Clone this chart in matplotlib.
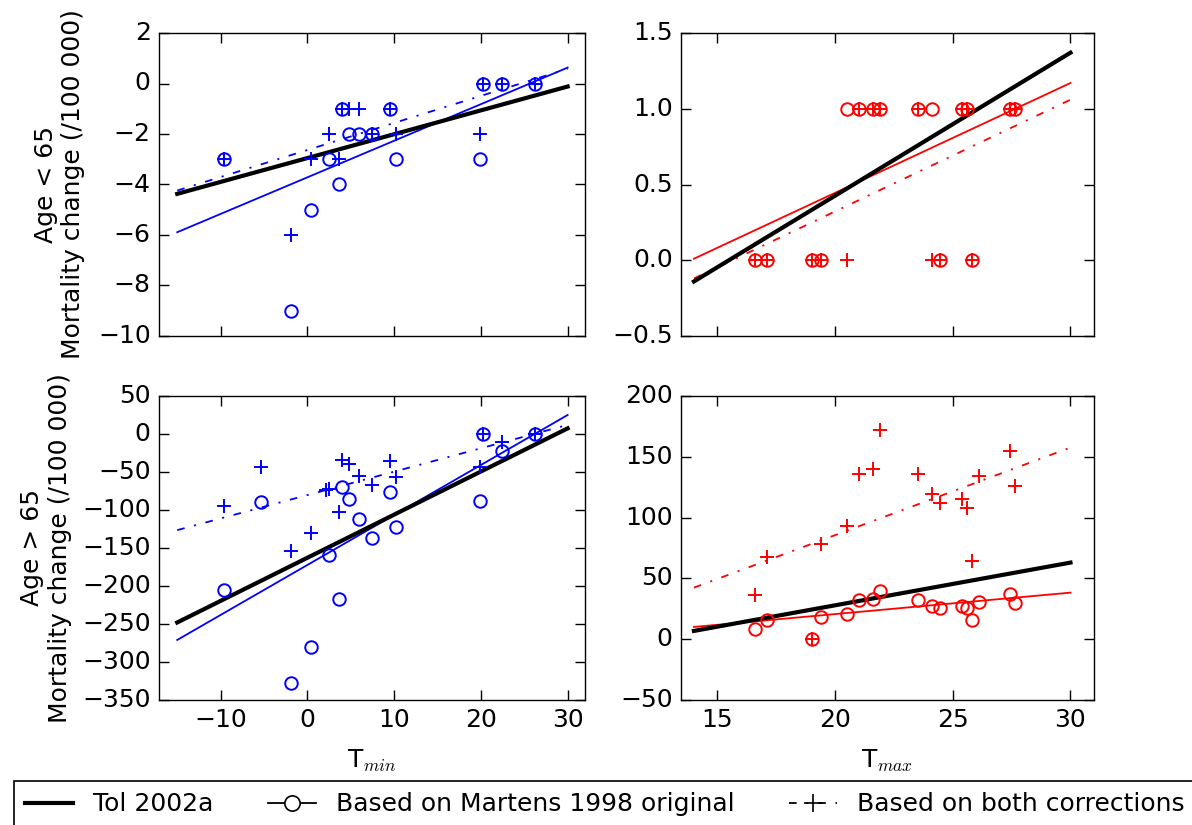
import numpy as np
import matplotlib
matplotlib.use('Agg')
import matplotlib.pyplot as plt
from matplotlib.lines import Line2D

plt.style.use('classic')
plt.rcParams['font.size'] = 18
plt.rcParams['mathtext.fontset'] = 'cm'
plt.rcParams['axes.unicode_minus'] = True

nan = np.nan

# city temperatures (deg C)
tmin = [-9.6, -5.3, -1.9, 0.4, 2.1, 2.5, 3.7, 4.0, 4.8, 6.0, 7.5, 9.5, 10.2, 19.9, 20.2, 22.4, 26.2]
tmax = [16.6, 17.1, 19.0, 19.4, 20.5, 21.0, 21.6, 21.9, 23.5, 24.1, 24.45, 25.4, 25.6, 25.8, 26.1, 27.45, 27.65]

# mortality change, age < 65
young_tmin_orig = [-3, nan, -9, -5, nan, -3, -4, -1, -2, -2, -2, -1, -3, -3, 0, 0, 0]
young_tmin_corr = [-3, nan, -6, -3, nan, -2, -3, -1, -1, -1, -2, -1, -2, -2, 0, 0, 0]
young_tmax_orig = [0, 0, 0, 0, 1, 1, 1, 1, 1, 1, 0, 1, 1, 0, nan, 1, 1]
young_tmax_corr = [0, 0, 0, 0, 0, 1, 1, 1, 1, 0, 0, 1, 1, 0, nan, 1, 1]

# mortality change, age > 65
old_tmin_orig = [-205, -90, -328, -280, nan, -159, -217, -70, -86, -112, -137, -76, -122, -88, 0, -23, 0]
old_tmin_corr = [-95, -43, -154, -130, -74, -72, -102, -34, -40, -55, -67, -36, -56, -43, 0, -11, 0]
old_tmax_orig = [8, 16, 0, 18, 21, 32, 33, 40, 32, 27, 26, 27, 26, 16, 31, 37, 30]
old_tmax_corr = [36, 68, 0, 78, 93, 136, 140, 172, 136, 119, 112, 115, 108, 64, 134, 155, 126]

# fitted lines, value at both ends of the x range
line_tmin = [-15, 30]
line_tmax = [14, 30]
young_tmin_tol = [-4.37, -0.12]
young_tmin_fit_orig = [-5.89, 0.63]
young_tmin_fit_corr = [-4.24, 0.58]
young_tmax_tol = [-0.14, 1.37]
young_tmax_fit_orig = [0.01, 1.17]
young_tmax_fit_corr = [-0.12, 1.06]
old_tmin_tol = [-248, 7.4]
old_tmin_fit_orig = [-271, 25]
old_tmin_fit_corr = [-126.5, 12]
old_tmax_tol = [6.8, 63]
old_tmax_fit_orig = [10.1, 38.3]
old_tmax_fit_corr = [42.4, 157.6]

W, H = 1192.0, 825.0
fig = plt.figure(figsize=(11.92, 8.25), dpi=100, facecolor='white')

def box(x0, y0, x1, y1):
    return [x0 / W, 1 - y1 / H, (x1 - x0) / W, (y1 - y0) / H]

ax_tl = fig.add_axes(box(159, 33, 585, 336))
ax_tr = fig.add_axes(box(681, 33, 1094, 336))
ax_bl = fig.add_axes(box(159, 396, 585, 700))
ax_br = fig.add_axes(box(681, 396, 1094, 700))

dashdot = (0, (5.5, 7, 1.5, 7))

def panel(ax, xs, orig, corr, xl, tol, fit_o, fit_c, col):
    ax.plot(xl, fit_o, color=col, lw=1.3)
    ax.plot(xl, fit_c, color=col, lw=1.3, linestyle=dashdot)
    ax.plot(xl, tol, color='k', lw=3)
    ax.plot(xs, orig, 'o', mfc='none', mec=col, ms=9, mew=1.4)
    ax.plot(xs, corr, '+', color=col, mec=col, ms=10.5, mew=1.4)
    ax.tick_params(length=7, width=1, pad=6, labelsize=18)

panel(ax_tl, tmin, young_tmin_orig, young_tmin_corr, line_tmin,
      young_tmin_tol, young_tmin_fit_orig, young_tmin_fit_corr, 'b')
panel(ax_tr, tmax, young_tmax_orig, young_tmax_corr, line_tmax,
      young_tmax_tol, young_tmax_fit_orig, young_tmax_fit_corr, 'r')
panel(ax_bl, tmin, old_tmin_orig, old_tmin_corr, line_tmin,
      old_tmin_tol, old_tmin_fit_orig, old_tmin_fit_corr, 'b')
panel(ax_br, tmax, old_tmax_orig, old_tmax_corr, line_tmax,
      old_tmax_tol, old_tmax_fit_orig, old_tmax_fit_corr, 'r')

for ax in (ax_tl, ax_bl):
    ax.set_xlim(-17.1, 32)
    ax.set_xticks([-10, 0, 10, 20, 30])
for ax in (ax_tr, ax_br):
    ax.set_xlim(13.45, 31)
    ax.set_xticks([15, 20, 25, 30])

ax_tl.set_ylim(-10, 2)
ax_tl.set_yticks(np.arange(-10, 3, 2))
ax_tr.set_ylim(-0.5, 1.5)
ax_tr.set_yticks(np.arange(-0.5, 1.6, 0.5))
ax_bl.set_ylim(-350, 50)
ax_bl.set_yticks(np.arange(-350, 51, 50))
ax_br.set_ylim(-50, 200)
ax_br.set_yticks(np.arange(-50, 201, 50))

ax_tl.set_xticklabels([])
ax_tr.set_xticklabels([])

ax_tl.set_ylabel('Age < 65\nMortality change (/100 000)', fontsize=18, labelpad=9)
ax_bl.set_ylabel('Age > 65\nMortality change (/100 000)', fontsize=18, labelpad=7)
ax_bl.set_xlabel('T$_{min}$', fontsize=18, labelpad=11)
ax_br.set_xlabel('T$_{max}$', fontsize=18, labelpad=11)

handles = [
    Line2D([], [], color='k', lw=3),
    Line2D([], [], color='k', lw=1.3, marker='o', mfc='w', mec='k', ms=11, mew=1.2),
    Line2D([], [], color='k', lw=1.3, linestyle=dashdot, marker='+', ms=13, mew=1.2),
]
labels = ['Tol 2002a', 'Based on Martens 1998 original', 'Based on both corrections']
leg = fig.legend(handles, labels, loc='upper left', bbox_to_anchor=(14 / W, 1 - 781 / H),
                 ncol=3, numpoints=1, fancybox=False, borderaxespad=0, borderpad=0.45,
                 handlelength=1.9, handletextpad=0.8, columnspacing=2.2, fontsize=18)
leg.get_frame().set_edgecolor('k')
leg.get_frame().set_linewidth(1.2)

fig.savefig('out.png', dpi=100, facecolor='white')
